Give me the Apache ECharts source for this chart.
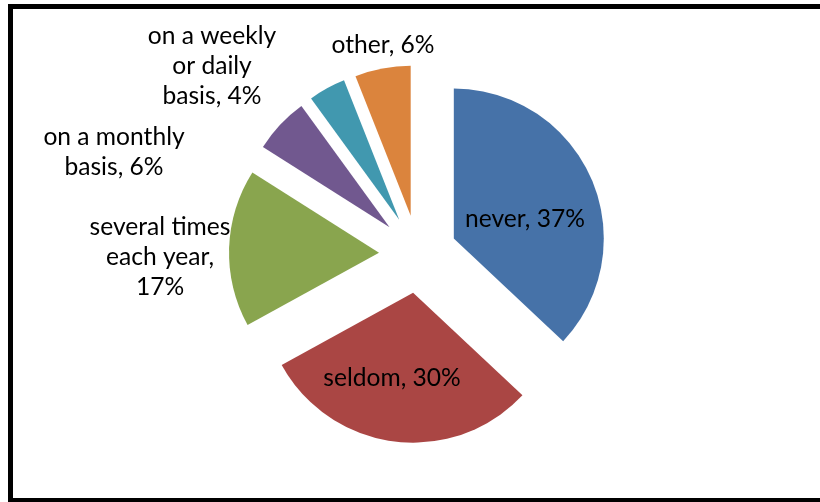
<!DOCTYPE html>
<html>
<head>
<meta charset="utf-8">
<script src="https://cdn.jsdelivr.net/npm/echarts@6/dist/echarts.min.js"></script>
<style>
  html, body { margin: 0; padding: 0; background: #ffffff; }
  #chart { width: 820px; height: 502px; }
</style>
</head>
<body>
<div id="chart"></div>
<script>
// How often respondents do it — share of answers (%)
const categories = ['never', 'seldom', 'several times\neach year', 'on a monthly\nbasis', 'on a weekly\nor daily\nbasis', 'other'];
const shares = [37, 30, 17, 6, 4, 6];
// the percentage goes on its own line for these slices
const shareOnNewLine = [false, false, true, false, false, false];
const sliceColors = ['#4672A8', '#AA4644', '#89A54E', '#71588F', '#4198AF', '#DB843D'];
// label block centres (px)
const labelCenters = [[525, 219], [392, 378], [160, 257], [114, 152], [212, 66], [383, 45]];

const chart = echarts.init(document.getElementById('chart'), null, { renderer: 'canvas' });

const data = categories.map((name, i) => ({
  name: name,
  value: shares[i],
  selected: true,
  itemStyle: { color: sliceColors[i] }
}));

const labelText = i => categories[i] + ',' + (shareOnNewLine[i] ? '\n' : ' ') + shares[i] + '%';

const labels = categories.map((_, i) => ({
  type: 'text',
  x: labelCenters[i][0],
  y: labelCenters[i][1],
  z: 50,
  style: {
    text: labelText(i),
    fill: '#000000',
    font: '24.6px Lato',
    lineHeight: 30,
    align: 'center',
    verticalAlign: 'middle'
  }
}));

chart.setOption({
  animation: false,
  backgroundColor: '#ffffff',
  graphic: [{
    type: 'rect',
    shape: { x: 10.5, y: 6.5, width: 840, height: 494 },
    style: { fill: 'none', stroke: '#000000', lineWidth: 5 },
    z: 100
  }].concat(labels),
  series: [{
    type: 'pie',
    center: [418, 254],
    radius: 150,
    startAngle: 90,
    clockwise: true,
    selectedMode: 'multiple',
    selectedOffset: 39,
    emphasis: { disabled: true },
    select: { itemStyle: { borderWidth: 0 } },
    itemStyle: { borderWidth: 0 },
    labelLine: { show: false },
    label: { show: false },
    data: data
  }]
});
</script>
</body>
</html>
